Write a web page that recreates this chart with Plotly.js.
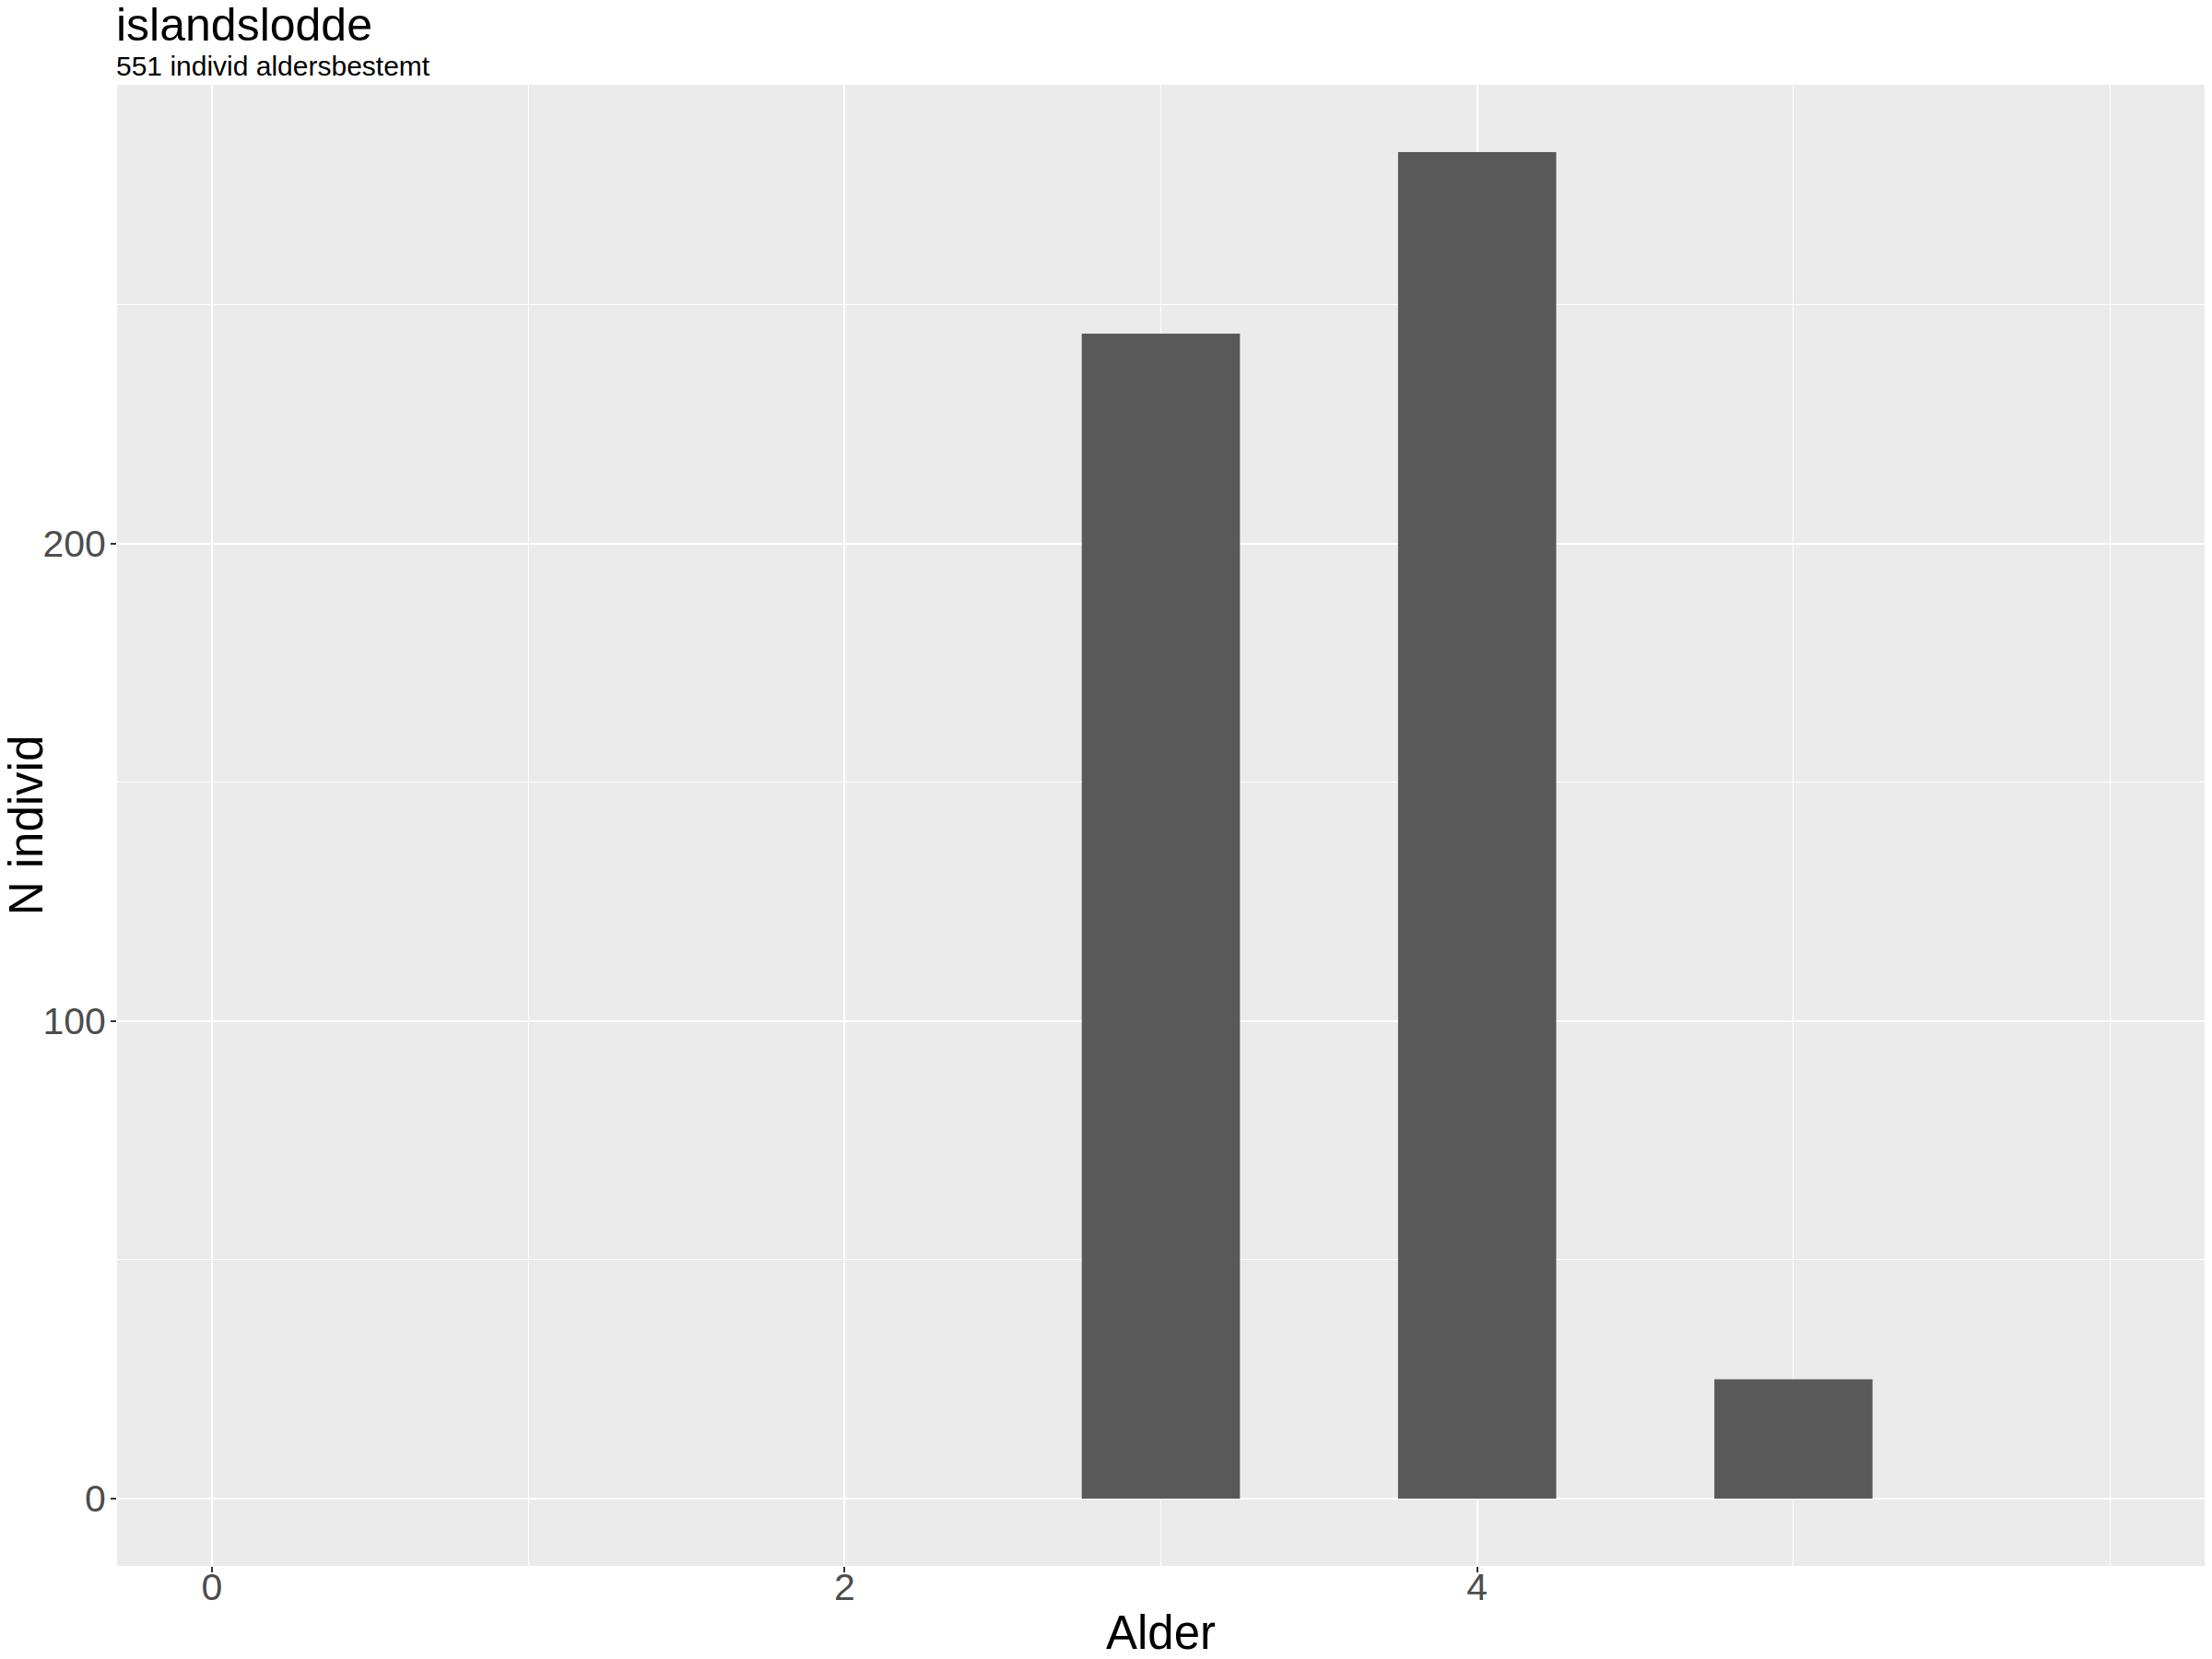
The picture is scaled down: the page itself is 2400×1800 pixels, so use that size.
<!DOCTYPE html>
<html>
<head>
<meta charset="utf-8">
<script src="https://cdn.plot.ly/plotly-3.0.1.min.js"></script>
<style>html,body{margin:0;padding:0;background:#fff}#chart{width:2400px;height:1800px}</style>
</head>
<body>
<div id="chart"></div>
<script>
const ages = [3, 4, 5];
const counts = [244, 282, 25];
const xTicks = [0, 2, 4];
const yTicks = [0, 100, 200];
const titleText = "islandslodde";
const subtitleText = "551 individ aldersbestemt";
const xTitle = "Alder";
const yTitle = "N individ";

const FONT = "Liberation Sans, Arial, sans-serif";
const trace = {
  type: "bar",
  x: ages,
  y: counts,
  width: 0.5,
  marker: {color: "#595959", line: {width: 0}},
  hoverinfo: "x+y"
};
const axisCommon = {
  showline: false,
  zeroline: false,
  gridcolor: "#FFFFFF",
  gridwidth: 2.2,
  ticks: "outside",
  ticklen: 6,
  tickwidth: 2,
  tickcolor: "#333333",
  tickfont: {family: FONT, size: 41, color: "#4D4D4D"},
  automargin: false
};
const layout = {
  width: 2400,
  height: 1800,
  paper_bgcolor: "#FFFFFF",
  plot_bgcolor: "#EBEBEB",
  showlegend: false,
  margin: {l: 127, r: 8, t: 92, b: 101},
  xaxis: Object.assign({}, axisCommon, {
    range: [-0.3, 6.3],
    tickmode: "array",
    tickvals: xTicks,
    ticktext: xTicks.map(String),
    ticklabelstandoff: -19,
    minor: {tickmode: "linear", tick0: 0, dtick: 1, showgrid: true, gridcolor: "#FFFFFF", gridwidth: 1.1, ticks: ""},
    title: {text: xTitle, font: {family: FONT, size: 51, color: "#000000"}, standoff: 14}
  }),
  yaxis: Object.assign({}, axisCommon, {
    range: [-14.1, 296.1],
    tickmode: "array",
    tickvals: yTicks,
    ticktext: yTicks.map(String),
    ticklabelstandoff: -3,
    minor: {tickmode: "linear", tick0: 0, dtick: 50, showgrid: true, gridcolor: "#FFFFFF", gridwidth: 1.1, ticks: ""},
    title: {text: yTitle, font: {family: FONT, size: 51, color: "#000000"}, standoff: 14}
  }),
  annotations: [
    {text: titleText, xref: "paper", yref: "paper", x: 0, y: 1 + 65/1607, xanchor: "left", yanchor: "middle",
     showarrow: false, font: {family: FONT, size: 50, color: "#000000"}, xshift: -3},
    {text: subtitleText, xref: "paper", yref: "paper", x: 0, y: 1 + 21/1607, xanchor: "left", yanchor: "middle",
     showarrow: false, font: {family: FONT, size: 30, color: "#000000"}, xshift: -3}
  ]
};
Plotly.newPlot("chart", [trace], layout, {displayModeBar: false, staticPlot: true});
</script>
</body>
</html>
